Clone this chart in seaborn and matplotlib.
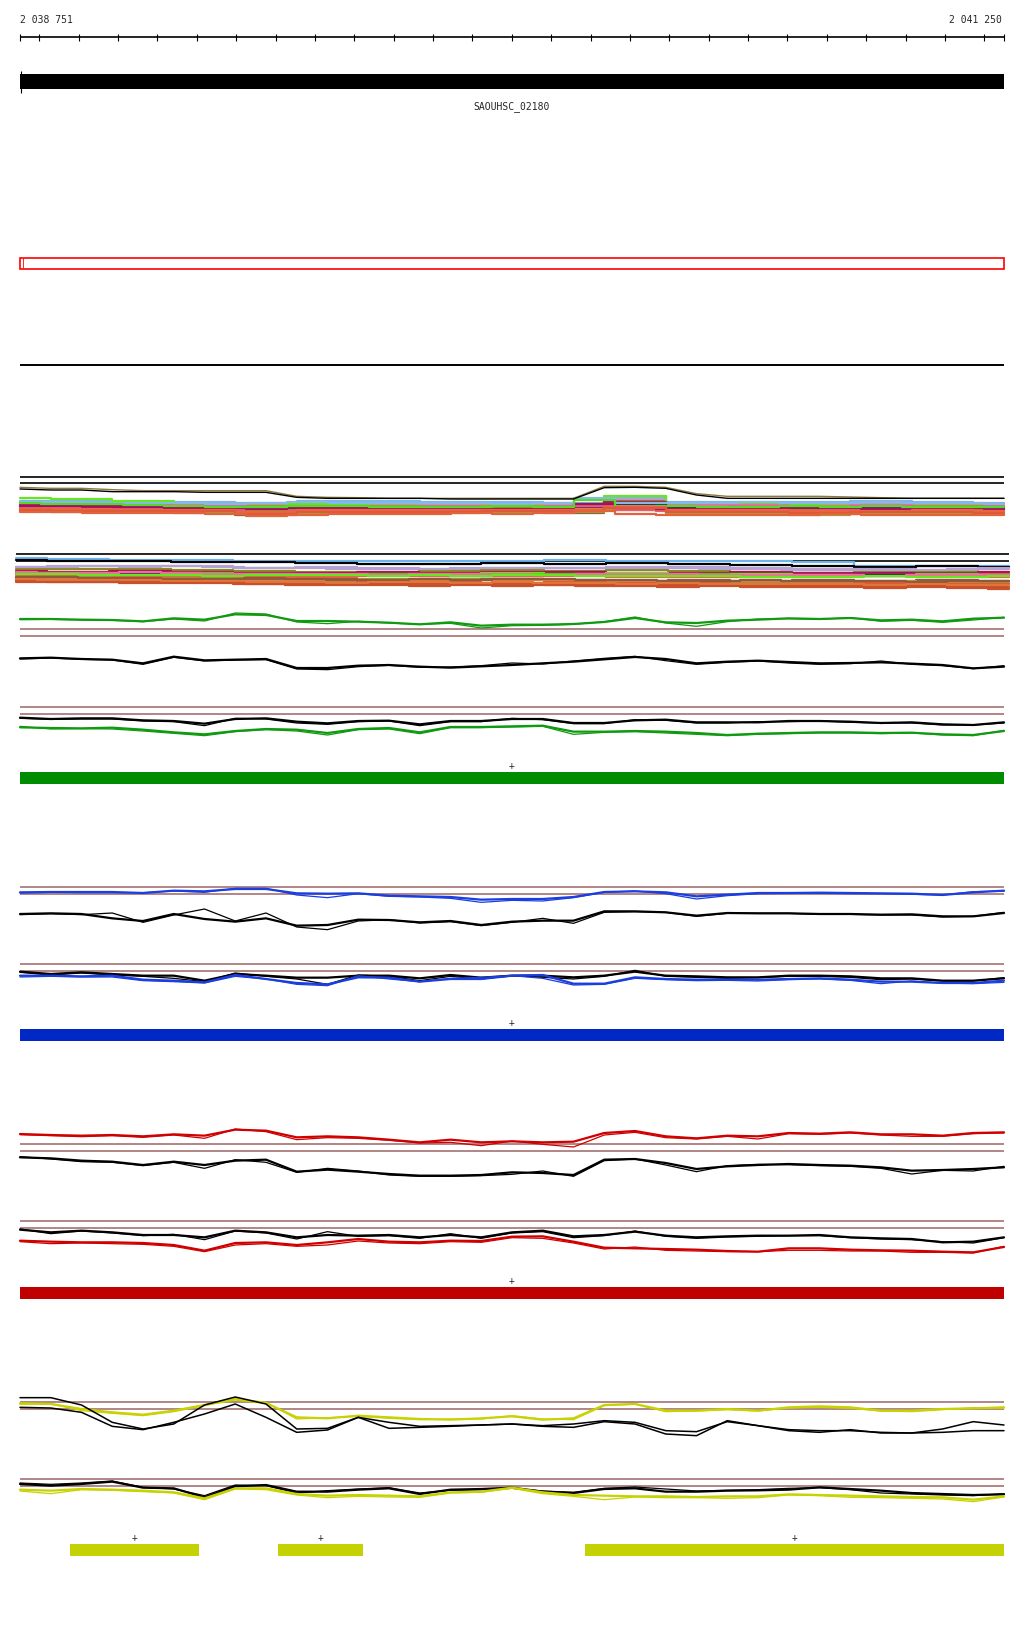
import numpy as np
import pandas as pd
import seaborn as sns
import matplotlib
matplotlib.use("Agg")
import matplotlib.pyplot as plt
from matplotlib.patches import Rectangle

sns.set_theme(style="white")
plt.rcParams['font.family'] = ['DejaVu Sans Mono', 'DejaVu Sans']

# region shown (bp)
START, END = 2038751, 2041250
GENE = "SAOUHSC_02180"
tick_pos = [START] + list(range(2038800, 2041201, 100)) + [END]
tick_labels = ["2 038 751", "2 041 250"]

# coverage-like traces, 33 samples across the region
# (at 3x zoom, depth below the section top)
pos33 = np.linspace(START, END, 33)

green_up_a = [60,60,62,63,67,58,62,46,48,66,66,68,71,76,70,80,77,77,75,69,57,70,72,65,62,58,60,57,64,62,67,59,56]
green_up_b = [62,61,63,64,68,60,66,42,45,69,74,67,72,76,73,87,80,79,76,68,54,72,82,68,60,59,61,56,67,64,70,63,55]
green_mid_a = [178,176,180,182,193,173,184,182,180,207,207,200,198,203,206,202,198,193,188,181,174,180,193,188,185,189,193,192,190,194,198,208,203]
green_mid_b = [180,177,181,183,196,175,186,183,182,210,212,203,199,205,204,200,192,195,186,178,172,185,196,190,186,192,196,194,186,196,200,209,200]
green_lo_k_a = [356,360,358,358,364,366,374,360,358,368,373,366,365,376,366,366,360,360,372,372,364,362,370,370,370,366,366,368,372,370,376,378,370]
green_lo_k_b = [358,361,360,360,366,368,380,358,360,372,376,368,366,380,368,368,358,362,374,374,362,364,372,372,368,368,366,370,372,372,378,378,372]
green_lo_a = [385,387,388,386,392,400,406,396,390,392,402,390,387,400,384,384,382,380,398,398,396,398,402,408,404,402,400,400,402,401,406,408,396]
green_lo_b = [382,390,389,390,396,403,410,398,392,396,408,392,390,404,386,386,384,382,406,400,398,402,406,410,406,404,402,402,404,402,408,410,394]

blue_up_a = [100,99,99,99,102,95,97,90,90,103,104,103,110,112,114,122,120,120,114,99,97,100,112,107,102,102,101,102,103,104,108,100,95]
blue_up_b = [102,100,101,101,101,96,100,88,88,108,116,104,112,114,118,130,124,126,116,100,96,104,120,110,104,103,103,104,104,106,108,98,96]
blue_mid_a = [165,163,165,178,186,165,180,188,178,200,198,182,183,190,186,198,188,185,185,157,157,160,170,162,163,163,165,165,167,166,172,172,162]
blue_mid_b = [167,164,167,162,190,168,150,186,162,204,212,186,182,192,188,200,190,178,193,160,158,160,172,163,163,163,166,166,168,168,174,172,160]
blue_lo_k_a = [338,345,340,345,350,350,365,345,350,356,356,350,350,358,348,356,350,350,355,350,338,350,352,355,355,350,350,352,358,358,365,365,358]
blue_lo_k_b = [340,348,342,348,352,358,368,342,352,360,376,348,352,365,352,360,350,355,360,352,334,352,355,358,356,352,352,355,362,360,366,366,356]
blue_lo_a = [350,350,352,350,362,365,370,348,360,372,376,355,356,368,360,360,350,348,374,374,355,360,362,362,362,360,358,362,368,368,372,372,365]
blue_lo_b = [354,352,354,354,365,368,372,352,360,376,380,350,360,368,358,355,350,358,378,376,358,362,365,364,366,362,360,364,374,366,372,374,370]

red_up_a = [75,78,80,78,82,76,80,62,65,85,82,85,92,100,92,100,97,100,98,72,66,82,88,80,82,72,74,70,76,76,80,72,70]
red_up_b = [77,80,83,80,85,78,88,60,68,92,86,88,94,102,100,110,96,106,114,78,70,86,90,82,90,74,76,72,78,82,82,74,72]
red_mid_a = [145,148,155,158,168,158,168,155,152,188,182,188,195,200,200,198,190,192,198,152,150,162,180,172,168,165,168,170,175,185,183,180,175]
red_mid_b = [143,150,158,160,170,160,178,152,160,190,178,186,198,202,202,200,196,186,202,155,150,168,188,170,166,167,170,172,178,195,184,186,172]
red_lo_k_a = [362,370,365,370,378,378,385,365,370,385,378,380,378,385,378,385,370,365,382,378,368,380,385,382,380,380,378,385,388,390,400,398,385]
red_lo_k_b = [360,374,366,372,380,376,392,366,372,390,368,382,380,388,374,388,372,368,386,380,366,382,388,384,382,380,380,386,390,392,398,402,386]
red_lo_a = [395,398,400,400,402,408,425,402,400,408,400,390,398,400,395,396,383,382,398,416,418,420,422,426,428,418,418,422,424,425,428,430,414]
red_lo_b = [398,404,402,404,406,412,428,408,404,412,408,396,402,404,398,400,386,388,402,420,414,424,426,428,428,424,424,426,426,430,430,432,412]

yel_up_k_a = [86,86,108,160,180,165,108,84,105,180,178,145,160,172,170,168,165,170,165,155,160,185,188,158,170,182,185,185,190,192,180,158,168]
yel_up_k_b = [115,117,130,172,182,160,135,105,145,190,183,145,178,175,172,168,165,172,175,158,165,195,200,155,170,185,190,182,192,192,190,185,185]
yel_up_a = [103,105,120,130,137,125,108,92,102,145,148,140,145,150,152,148,142,152,148,108,105,125,125,120,125,115,112,115,125,125,120,118,115]
yel_up_b = [106,104,125,133,140,128,110,88,100,150,146,142,148,152,150,150,140,150,152,110,105,128,126,122,126,117,115,118,126,128,122,116,118]
yel_lo_k_a = [345,350,345,338,356,358,385,352,348,368,368,362,358,375,362,360,356,368,372,360,358,368,368,365,364,362,355,360,365,372,375,378,376]
yel_lo_k_b = [342,346,342,336,355,360,380,348,350,372,365,360,356,372,364,362,358,366,370,358,354,360,366,364,362,358,356,362,372,375,378,380,374]
yel_lo_a = [362,365,360,362,365,370,388,358,358,375,380,378,380,382,370,368,356,370,378,380,382,382,384,382,382,376,378,380,382,384,385,392,382]
yel_lo_b = [366,374,362,364,368,372,392,360,362,378,386,382,384,385,372,370,358,374,382,392,384,386,386,388,386,378,380,385,386,388,390,398,384]

# reference levels (brown lines), same 3x units
green_ref = [91, 112, 325, 346]
blue_ref = [85, 106, 316, 337]
red_ref = [105, 127, 337, 358]
yel_ref = [100, 121, 331, 352]

# multi-sample tracks at the top: 33-point olive/black traces and
# step series on 17- and 25-point grids (px below the first black rule)
olive_top = [55,58,58,62,65,65,65,65,65,82,85,86,88,88,88,88,88,88,88,52,52,55,74,82,82,82,82,84,86,88,88,88,88]
black_top = [60,63,63,68,68,68,70,70,70,85,88,88,88,88,90,90,90,90,90,56,55,58,78,88,88,88,88,88,88,88,88,88,88]
band1 = [
    ("#7ab6ea", [24,24,25,25,26,24,24,25,25,26,20,25,25,25,24,25,26]),
    ("#b4a2d4", [26,27,26,27,28,28,27,27,28,28,22,27,27,28,27,28,27]),
    ("#8c8a1e", [27,28,28,29,31,30,29,30,29,30,24,29,29,30,29,30,31]),
    ("#66e61e", [21,22,24,28,27,27,28,29,28,29,19,28,27,28,29,27,28]),
    ("#e2743a", [29,30,30,31,33,31,30,30,31,31,26,30,30,31,30,31,32]),
    ("#e8709a", [27,27,28,28,29,29,29,29,29,29,26,28,28,29,28,29,29]),
    ("#b0105a", [28,29,29,30,30,31,30,30,31,30,25,31,30,31,30,30,30]),
    ("#6c1e7e", [30,30,31,31,32,32,31,31,31,31,27,32,31,32,31,32,31]),
    ("#14144e", [31,31,32,33,32,33,32,32,32,33,28,31,33,32,32,33,32]),
    ("#d88448", [30,31,31,32,34,32,32,33,32,32,29,32,32,33,33,33,33]),
    ("#8e5a3a", [34,35,35,36,38,36,36,35,35,36,33,36,37,37,36,36,37]),
    ("#a89c3c", [33,33,34,35,37,36,36,36,35,35,32,36,37,38,37,37,37]),
    ("#88b8e8", [25,25,26,26,26,27,26,25,26,26,26,26,27,26,21,26,26,26,25,26,26,25,26,26,27]),
    ("#a0961e", [29,30,30,31,32,33,34,33,32,31,32,32,31,32,27,31,32,32,33,32,32,33,32,33,33]),
    ("#e0606e", [31,31,32,32,32,33,35,34,33,33,33,33,33,33,29,33,34,34,34,34,33,34,34,34,35]),
    ("#a01060", [29,29,30,30,31,31,32,31,31,31,31,31,32,31,27,31,32,31,32,31,31,32,32,31,32]),
    ("#55d82a", [26,27,27,28,29,30,30,29,29,30,30,30,29,30,23,30,29,30,30,29,30,29,30,30,30]),
    ("#ec6244", [32,32,33,33,35,33,33,33,33,33,30,33,33,34,34,33,34]),
    ("#dc5a34", [33,34,34,34,37,35,35,35,34,34,31,35,35,36,35,35,36]),
    ("#e2623c", [35,35,36,36,36,37,39,38,37,37,37,36,37,36,34,37,38,38,38,38,37,38,38,38,38]),
]
band2 = [
    ("#6cb4ee", [4,5,6,6,7,7,7,7,7,6,7,7,7,8,12,12,12]),
    ("#000000", [6,7,7,8,8,9,10,10,9,10,9,10,11,12,13,12,13]),
    ("#b4a2d4", [13,12,12,12,14,13,14,15,14,14,13,13,14,15,15,16,14]),
    ("#8c8a1e", [15,15,15,16,17,18,18,17,16,17,16,17,18,19,18,18,18]),
    ("#e2743a", [18,18,19,19,20,20,19,20,20,20,20,20,20,19,20,20,19]),
    ("#b0105a", [17,18,17,18,19,19,18,19,18,18,19,19,18,19,19,19,18]),
    ("#66e61e", [19,19,20,19,20,21,20,20,19,20,19,20,20,21,21,20,21]),
    ("#6c1e7e", [20,20,20,21,21,21,21,21,21,21,21,21,22,22,22,21,21]),
    ("#14144e", [20,21,21,20,22,22,21,22,22,21,22,21,22,22,21,22,22]),
    ("#ec6244", [21,22,22,22,23,23,22,22,22,22,23,23,23,23,22,23,23]),
    ("#a89c3c", [23,23,24,24,27,26,25,25,25,26,27,27,28,28,28,28,29]),
    ("#8e5a3a", [24,24,25,25,26,25,26,26,25,26,27,26,27,26,27,26,27]),
    ("#d88448", [25,25,25,26,27,27,26,27,26,27,28,27,27,28,27,28,27]),
    ("#dc5a34", [26,26,27,27,29,29,28,28,29,28,29,29,30,30,29,30,30]),
    ("#c8502a", [27,28,28,28,30,30,30,30,30,31,31,31,31,31,32,32,33]),
    ("#b4a2d4", [13,13,12,13,12,13,14,14,15,15,15,14,14,14,14,14,14,15,15,16,16,16,16,15,15]),
    ("#e8709a", [18,19,19,18,19,20,20,20,20,21,20,20,20,21,20,20,20,21,21,21,21,22,21,21,21]),
    ("#66e61e", [20,20,21,21,21,22,21,21,21,22,21,22,21,21,22,22,22,22,23,23,23,22,23,23,22]),
    ("#8e5a3a", [23,23,24,24,25,25,24,25,26,26,25,26,25,25,26,26,27,27,26,27,27,27,28,27,27]),
    ("#e2743a", [25,26,26,26,27,27,28,28,29,28,28,29,28,29,29,30,29,30,30,30,30,31,30,31,31]),
    ("#c8502a", [28,28,28,29,29,29,30,31,31,31,32,31,32,31,32,32,33,32,33,33,33,34,33,34,35]),
]

# feature segments for the yellow track (bp)
yel_segments = [(2038878, 2039206), (2039406, 2039622), (2040186, 2041250)]

BP = (END - START) / 984.0
fig = plt.figure(figsize=(10.24, 16.40), dpi=100)
ax = fig.add_axes([0, 0, 1, 1])
ax.set_xlim(START - 20 * BP, START + 1004 * BP)
ax.set_ylim(1640, 0)
ax.axis("off")

BROWN = "#9c6464"


def trace(vals, top, color, lw, x=pos33, scale=3.0, **kw):
    y = top + np.asarray(vals, dtype=float) / scale
    sns.lineplot(x=x, y=y, ax=ax, color=color, lw=lw, estimator=None,
                 sort=False, legend=False, **kw)


def band(series, top, x0, x1):
    for col, v in series:
        grid = np.linspace(x0, x1, len(v))
        trace(v, top, col, 1.6, x=grid, scale=1.0, drawstyle="steps-mid")


# ruler
ax.hlines(38, START, END, color="black", lw=1.2)
ax.vlines(tick_pos, 34.5, 41.5, color="black", lw=0.8)
ax.text(START, 20, tick_labels[0], fontsize=7, va="center", ha="left")
ax.text(END - 2 * BP, 20, tick_labels[1], fontsize=7, va="center", ha="right")

# gene
ax.add_patch(Rectangle((START, 75), END - START, 15, color="black", lw=0))
ax.vlines(START + 1.2 * BP, 71.5, 93.5, color="black", lw=0.8)
ax.text((START + END) / 2, 106.5, GENE, fontsize=7, ha="center", va="center")

# red box + separator
ax.add_patch(Rectangle((START, 258.5), END - START, 11, fill=False,
                       edgecolor="#ff0000", lw=1.2))
ax.vlines(START + 2.5 * BP, 259, 269, color="#ff0000", lw=0.6)
ax.hlines(366, START, END, color="black", lw=1.4)

# top multi-sample tracks
g1 = 478
ax.hlines([g1, g1 + 6], START, END, color="black", lw=1.2)
band(band1, g1, START, END)
trace(olive_top, 470, "#8c7a3c", 1.0)
trace(black_top, 470, "black", 1.0)

g2 = 555
x2a, x2b = START - 4 * BP, END + 5 * BP
ax.hlines([g2, g2 + 7], x2a, x2b, color="black", lw=1.2)
band(band2, g2, x2a, x2b)

# coloured sections
sections = [
    (600, "#109a10", "#008c00", green_ref,
     [green_up_a, green_up_b], [green_mid_a, green_mid_b],
     [green_lo_k_a, green_lo_k_b], [green_lo_a, green_lo_b], 773),
    (860, "#1a3ee0", "#0028c4", blue_ref,
     [blue_up_a, blue_up_b], [blue_mid_a, blue_mid_b],
     [blue_lo_k_a, blue_lo_k_b], [blue_lo_a, blue_lo_b], 1030),
    (1110, "#d00000", "#c00000", red_ref,
     [red_up_a, red_up_b], [red_mid_a, red_mid_b],
     [red_lo_k_a, red_lo_k_b], [red_lo_a, red_lo_b], 1288),
]
for top, lc, bc, refs, up, mid, lok, lo, bar_y in sections:
    ax.hlines([top + r / 3 for r in refs], START, END, color=BROWN, lw=1.1)
    trace(up[0], top, lc, 1.6)
    trace(up[1], top, lc, 0.9)
    trace(mid[0], top, "black", 1.6)
    trace(mid[1], top, "black", 0.9)
    trace(lok[0], top, "black", 1.6)
    trace(lok[1], top, "black", 0.9)
    trace(lo[0], top, lc, 1.6)
    trace(lo[1], top, lc, 0.9)
    ax.broken_barh([(START, END - START)], (bar_y, 11.5), color=bc, lw=0)
    ax.text((START + END) / 2, bar_y - 7, "+", fontsize=7, ha="center",
            va="center")

# yellow section
ytop = 1370
YC = "#c8d200"
ax.hlines([ytop + r / 3 for r in yel_ref], START, END, color=BROWN, lw=1.1)
trace(yel_up_a, ytop, YC, 1.6)
trace(yel_up_b, ytop, YC, 0.9)
trace(yel_up_k_a, ytop, "black", 1.1)
trace(yel_up_k_b, ytop, "black", 1.1)
trace(yel_lo_k_a, ytop, "black", 1.6)
trace(yel_lo_k_b, ytop, "black", 0.9)
trace(yel_lo_a, ytop, YC, 1.6)
trace(yel_lo_b, ytop, YC, 0.9)
ax.broken_barh([(a, b - a) for a, b in yel_segments], (1545, 11.5),
               color="#c4d204", lw=0)
for a, b in yel_segments:
    ax.text((a + b) / 2, 1538, "+", fontsize=7, ha="center", va="center")

fig.savefig("out.png", dpi=100, facecolor="white")
